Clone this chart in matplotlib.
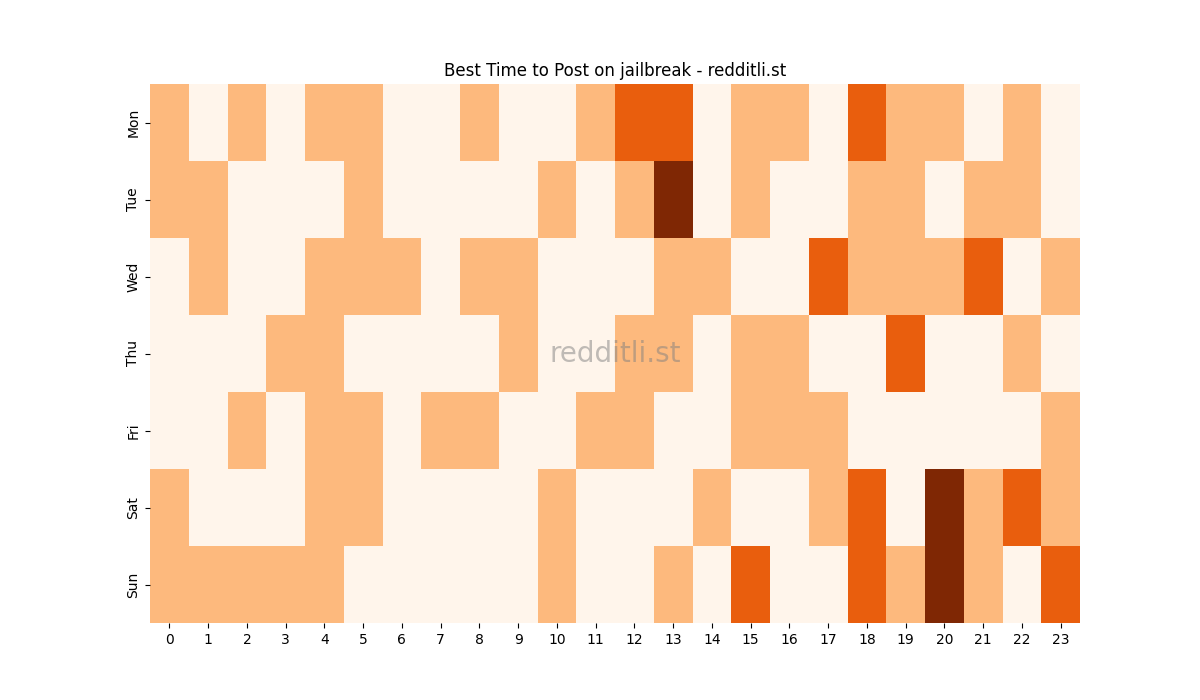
import matplotlib
matplotlib.use("Agg")
import matplotlib.pyplot as plt
import numpy as np

days = ["Mon", "Tue", "Wed", "Thu", "Fri", "Sat", "Sun"]
hours = list(range(24))

mon = [1, 0, 1, 0, 1, 1, 0, 0, 1, 0, 0, 1, 2, 2, 0, 1, 1, 0, 2, 1, 1, 0, 1, 0]
tue = [1, 1, 0, 0, 0, 1, 0, 0, 0, 0, 1, 0, 1, 3, 0, 1, 0, 0, 1, 1, 0, 1, 1, 0]
wed = [0, 1, 0, 0, 1, 1, 1, 0, 1, 1, 0, 0, 0, 1, 1, 0, 0, 2, 1, 1, 1, 2, 0, 1]
thu = [0, 0, 0, 1, 1, 0, 0, 0, 0, 1, 0, 0, 1, 1, 0, 1, 1, 0, 0, 2, 0, 0, 1, 0]
fri = [0, 0, 1, 0, 1, 1, 0, 1, 1, 0, 0, 1, 1, 0, 0, 1, 1, 1, 0, 0, 0, 0, 0, 1]
sat = [1, 0, 0, 0, 1, 1, 0, 0, 0, 0, 1, 0, 0, 0, 1, 0, 0, 1, 2, 0, 3, 1, 2, 1]
sun = [1, 1, 1, 1, 1, 0, 0, 0, 0, 0, 1, 0, 0, 1, 0, 2, 0, 0, 2, 1, 3, 1, 0, 2]

grid = np.array([mon, tue, wed, thu, fri, sat, sun])

fig, ax = plt.subplots(figsize=(12, 7), dpi=100)
ax.pcolormesh(grid, cmap="Oranges", vmin=0, vmax=3)
ax.set_xlim(0, 24)
ax.set_ylim(7, 0)
ax.set_xticks(np.arange(24) + 0.5)
ax.set_xticklabels(hours)
ax.set_yticks(np.arange(7) + 0.5)
ax.set_yticklabels(days, rotation=90, va="center")
for s in ax.spines.values():
    s.set_visible(False)
ax.set_title("Best Time to Post on jailbreak - redditli.st")
ax.text(0.5, 0.5, "redditli.st", transform=ax.transAxes, ha="center", va="center",
        fontsize=20, color="gray", alpha=0.5)

plt.savefig("out.png")
